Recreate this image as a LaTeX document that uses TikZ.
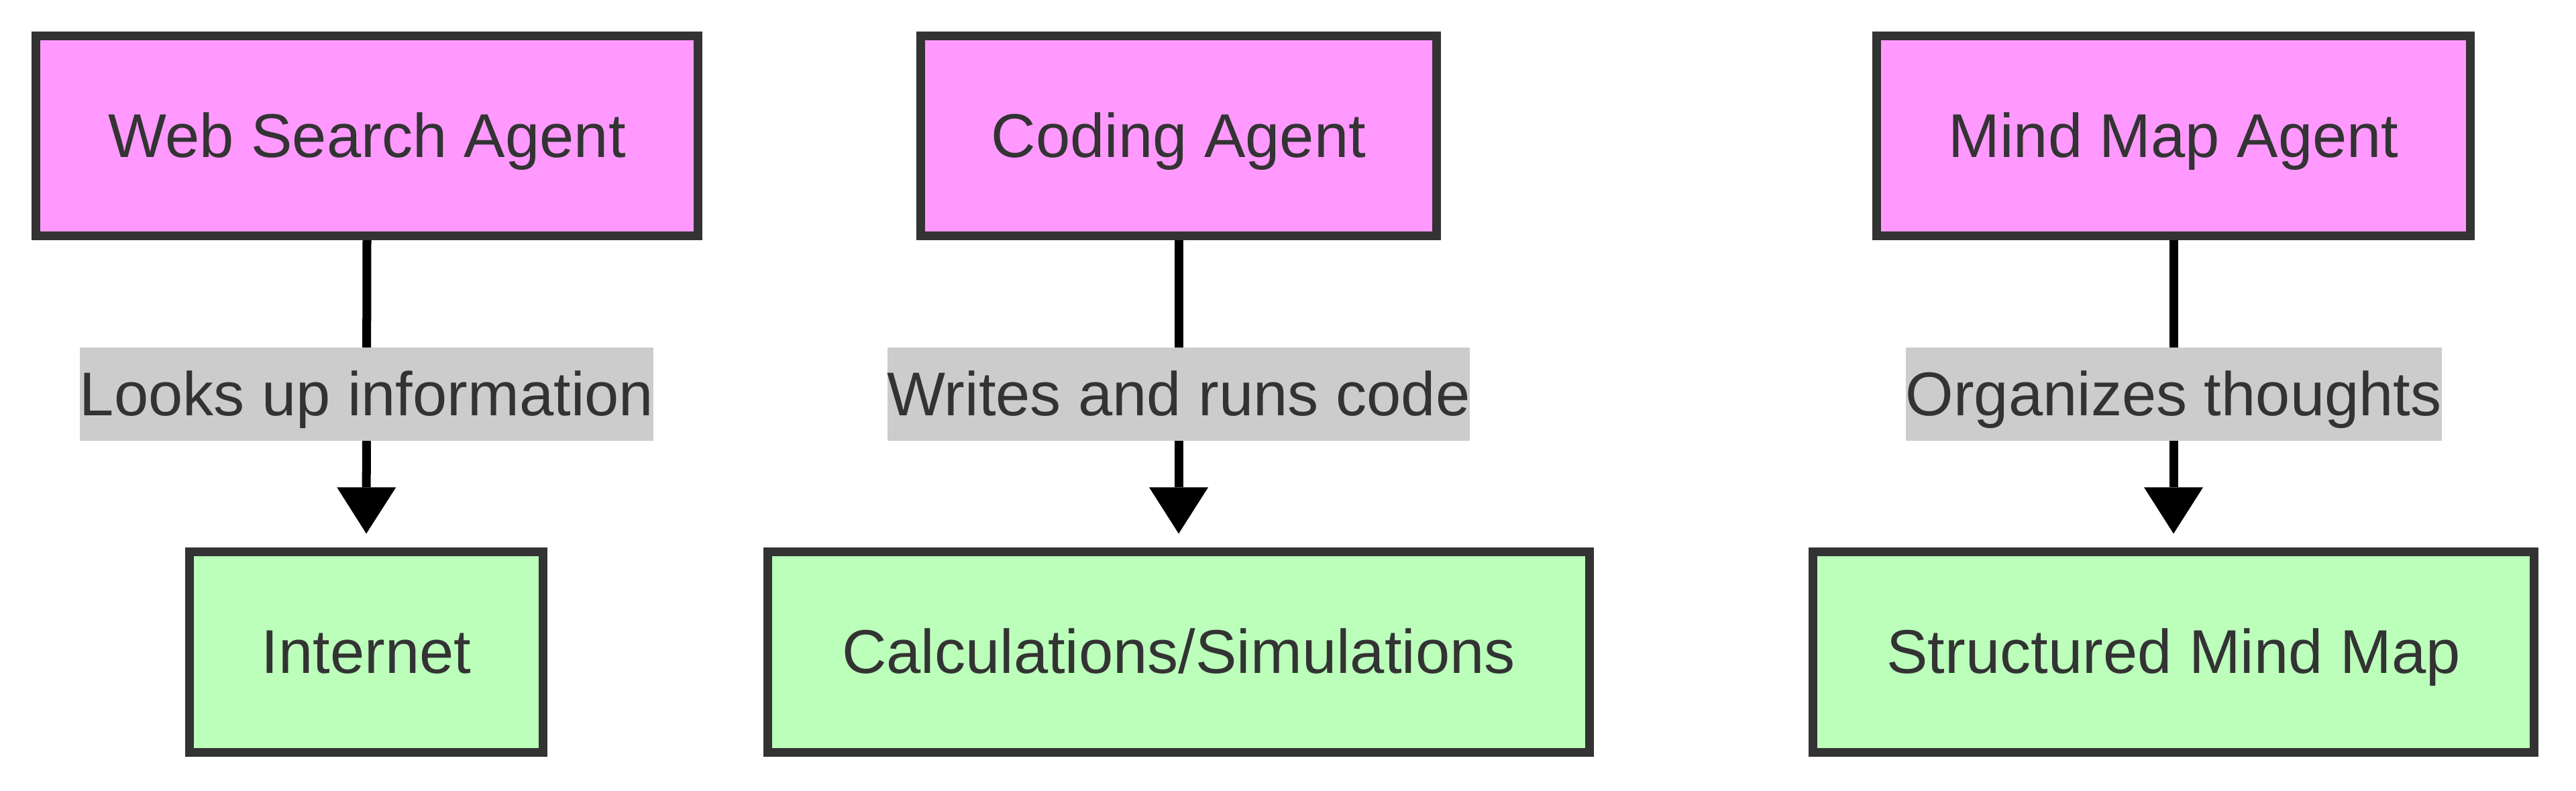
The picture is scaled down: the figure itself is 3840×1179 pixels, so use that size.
\documentclass[tikz,border=0pt]{standalone}
\usepackage{fontspec}
\setmainfont{Liberation Sans}
\usetikzlibrary{arrows.meta,calc,backgrounds}
\definecolor{agentfill}{HTML}{FF99FF}
\definecolor{outfill}{HTML}{BBFFBB}
\definecolor{darkgray}{HTML}{333333}
\definecolor{lblfill}{HTML}{CCCCCC}
\tikzset{
  txt/.style={font=\fontsize{26.2pt}{31pt}\selectfont, text=darkgray,
    text height=0.833cm, text depth=0.195cm},
  agentbox/.style={txt, draw=darkgray, line width=0.13cm, fill=agentfill,
    inner sep=0pt, minimum height=2.98cm},
  outbox/.style={agentbox, fill=outfill},
  lbl/.style={txt, fill=lblfill, inner xsep=0pt, inner ysep=0pt,
    minimum height=1.39cm},
  flow/.style={line width=0.13cm, black,
    -{Triangle[length=0.69cm,width=0.88cm,line width=0pt]}, shorten >=0.21cm}
}
\newcommand{\softshadow}[1]{%
  \foreach \r in {2,4,...,18} {%
    \fill[black, opacity=0.011, rounded corners=\r*0.2pt]
      ($(#1.north west)+(-\r,-\r+7)$) rectangle ($(#1.south east)+(\r,\r+7)$);
  }%
}
\begin{document}
\begin{tikzpicture}[x=0.01cm, y=-0.01cm]
  \useasboundingbox[fill=white] (0,0) rectangle (3840,1179);
  % top row
  \node[agentbox, minimum width=9.87cm] (wsa) at (547,202.5) {Web Search Agent};
  \node[agentbox, minimum width=7.69cm] (ca) at (1757,202.5) {Coding Agent};
  \node[agentbox, minimum width=8.84cm] (mma) at (3240,202.5) {Mind Map Agent};
  % bottom row
  \node[outbox, minimum width=5.27cm] (inet) at (546,972) {Internet};
  \node[outbox, minimum width=12.25cm] (calc) at (1757,972) {Calculations/Simulations};
  \node[outbox, minimum width=10.75cm] (smm) at (3240,972) {Structured Mind Map};
  % shadows
  \begin{scope}[on background layer]
    \softshadow{wsa}\softshadow{ca}\softshadow{mma}
    \softshadow{inet}\softshadow{calc}\softshadow{smm}
  \end{scope}
  % edges
  \draw[flow] (wsa.south) -- node[lbl] {Looks up information} (inet.north);
  \draw[flow] (ca.south) -- node[lbl] {Writes and runs code} (calc.north);
  \draw[flow] (mma.south) -- node[lbl] {Organizes thoughts} (smm.north);
\end{tikzpicture}
\end{document}
